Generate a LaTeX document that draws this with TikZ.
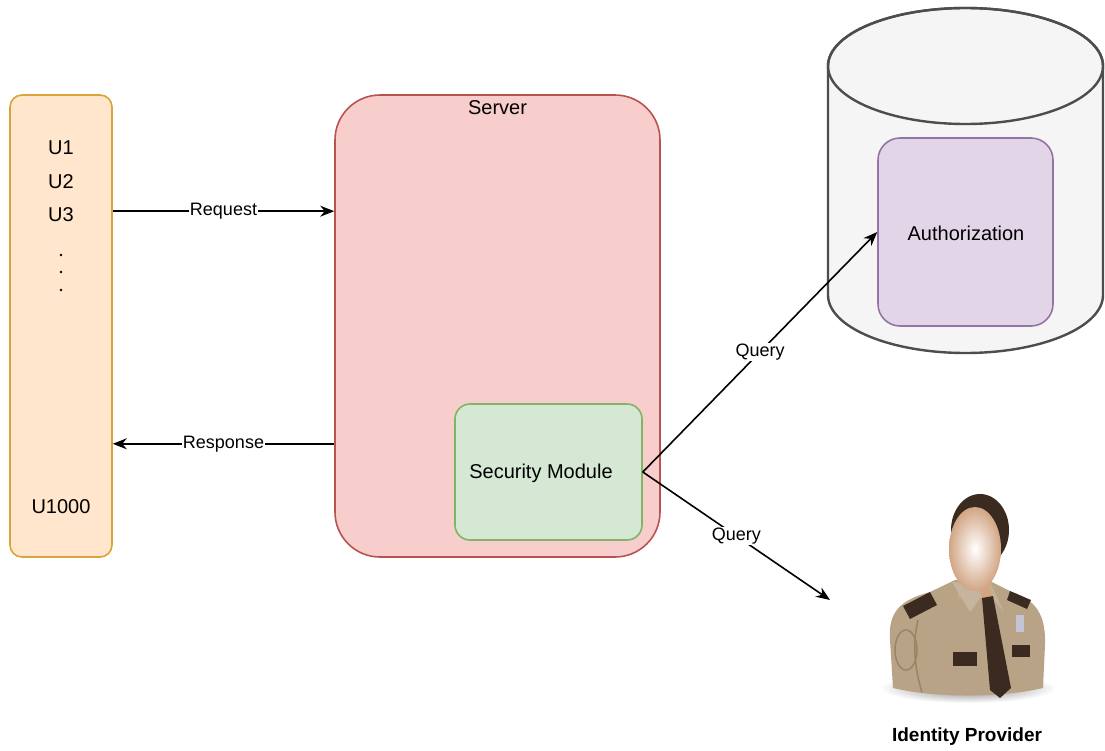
\documentclass[tikz,border=0pt]{standalone}
\usepackage{fontspec}
\setmainfont{Liberation Sans}
\usepackage{tikz}
\usetikzlibrary{positioning,arrows.meta}

\definecolor{userfill}{HTML}{FFE6CC}
\definecolor{userline}{HTML}{D9A43A}
\definecolor{srvfill}{HTML}{F8CECC}
\definecolor{srvline}{HTML}{B85450}
\definecolor{secfill}{HTML}{D5E8D4}
\definecolor{secline}{HTML}{82B366}
\definecolor{authfill}{HTML}{E1D5E7}
\definecolor{authline}{HTML}{9673A6}
\definecolor{dbfill}{HTML}{F5F5F5}
\definecolor{dbline}{HTML}{4D4D4D}
\definecolor{shirt}{HTML}{B8A386}
\definecolor{shirtdark}{HTML}{9A8466}
\definecolor{darkbrown}{HTML}{3A2A20}
\definecolor{skin}{HTML}{D2A584}

\tikzset{
  box/.style={draw, line width=1.6pt, inner sep=0pt},
  arr/.style={-{Stealth[length=14pt,width=11pt]}, line width=1.6pt},
  lbl/.style={fill=white, inner sep=1pt, font=\fontsize{18}{20}\selectfont},
}

\begin{document}
\begin{tikzpicture}[x=1pt,y=-1pt,font=\fontsize{20}{24}\selectfont]

\useasboundingbox (0,0) rectangle (1105,750);

% users
\node[box, draw=userline, fill=userfill, rounded corners=12pt,
      minimum width=102pt, minimum height=462pt] (users) at (61,326) {};
\foreach \u/\y in {U1/148,U2/182,U3/215}
  \node (\u) at (61,\y) {\u};
\foreach \y in {255,272,290}
  \fill (61,\y) circle (1.4);
\node (U1000) at (61,507) {U1000};

% server
\node[box, draw=srvline, fill=srvfill, rounded corners=45pt,
      minimum width=325pt, minimum height=462pt] (srv) at (497.5,326) {};
\node[below=3pt of srv.north] (srvlbl) {Server};
\node[box, draw=secline, fill=secfill, rounded corners=15pt,
      minimum width=187pt, minimum height=136pt] (sec) at (548.5,472) {};
\node (seclbl) at (541,473) {Security Module};

% database
\filldraw[draw=dbline, fill=dbfill, line width=2.4pt]
  (828,66) -- (828,295) arc[start angle=180, end angle=0, x radius=137.5, y radius=58]
  -- (1103,66) arc[start angle=0, end angle=-180, x radius=137.5, y radius=58] -- cycle;
\draw[draw=dbline, line width=2.4pt] (965.5,66) ellipse [x radius=137.5, y radius=58];
\node[box, draw=authline, fill=authfill, rounded corners=22pt,
      minimum width=175pt, minimum height=188pt] (auth) at (965.5,232) {};
\node (authlbl) at (966,233) {Authorization};

% identity provider
\shade[inner color=black!50, outer color=white] (968,688) ellipse [x radius=88, y radius=15];
\fill[shirt] (893,688) -- (890,640) .. controls (888,612) and (900,600) .. (930,592)
  -- (955,580) -- (988,580) -- (1012,592) .. controls (1036,600) and (1046,615) .. (1045,645)
  -- (1043,688) .. controls (1000,698) and (935,698) .. (893,688) -- cycle;
\draw[shirtdark, line width=1.5pt] (918,620) .. controls (912,645) and (915,670) .. (922,692);
\draw[shirtdark, line width=1.5pt] (906,650) ellipse [x radius=11, y radius=20];
\fill[darkbrown] (903,606) -- (930,592) -- (937,605) -- (910,619) -- cycle;
\fill[darkbrown] (1010,591) -- (1031,600) -- (1027,609) -- (1007,600) -- cycle;
\fill[skin] (958,565) rectangle (992,598);
\fill[shirt!80!white] (952,582) -- (970,612) -- (982,596) -- (975,585) -- cycle;
\fill[shirt!85!white] (990,582) -- (1004,612) -- (992,598) -- cycle;
\fill[darkbrown] (982,598) -- (993,596) -- (1011,688) -- (1000,698) -- (990,690) -- cycle;
\fill[darkbrown] (953,652) rectangle (977,666);
\fill[darkbrown] (1012,645) rectangle (1030,657);
\fill[blue!15!gray!40] (1016,615) rectangle (1024,632);
\fill[darkbrown] (980,530) ellipse [x radius=29, y radius=36];
\shade[inner color=white, outer color=skin] (975,549) ellipse [x radius=26, y radius=42];
\node[font=\fontsize{19}{22}\selectfont\bfseries] (idp) at (967,737) {Identity Provider};
\coordinate (idp in) at (830,600);

% connectors
\path[arr] ([yshift=-117pt]users.north east) edge node[lbl] {Request} ([yshift=-117pt]srv.north west);
\path[arr] ([yshift=114pt]srv.south west) edge node[lbl] {Response} ([yshift=114pt]users.south east);
\path[arr] (sec.east) edge node[lbl] {Query} (auth.west);
\path[arr] (sec.east) edge node[lbl] {Query} (idp in);

\end{tikzpicture}
\end{document}
